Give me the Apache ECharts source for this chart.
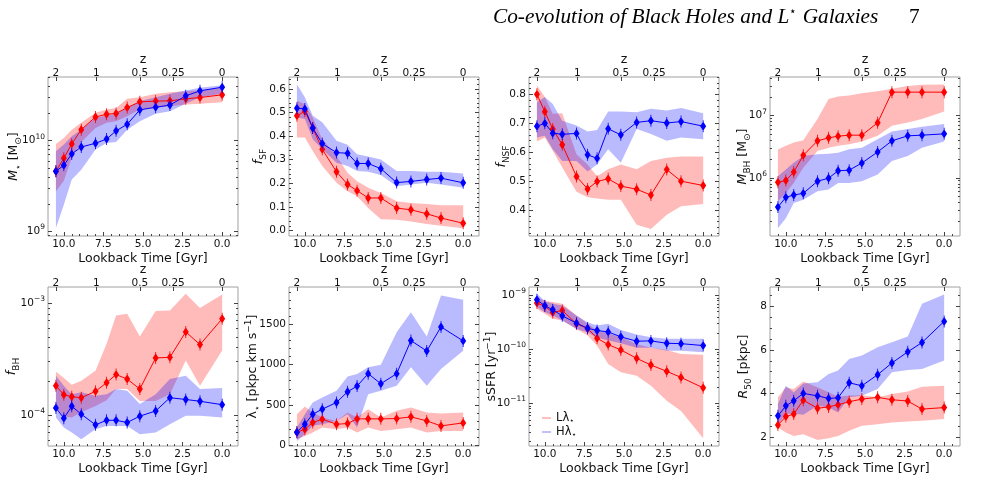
<!DOCTYPE html>
<html>
<head>
<meta charset="utf-8">
<script src="https://cdn.jsdelivr.net/npm/echarts@6/dist/echarts.min.js"></script>
<style>
  html, body { margin: 0; padding: 0; background: #fff; }
  #chart { width: 993px; height: 478px; }
</style>
</head>
<body>
<div id="chart"></div>
<script>
// lookback time of each snapshot [Gyr]
const lookback = [10.5, 10.0, 9.5, 8.9, 8.0, 7.3, 6.7, 6.0, 5.2, 4.2, 3.3, 2.3, 1.4, 0.0];
// top axis: redshift ticks and where they sit in lookback time
const zLabels = ['2', '1', '0.5', '0.25', '0'];
const zAtLookback = [10.5, 7.95, 5.2, 3.1, 0];
const xMajor = [0, 2.5, 5, 7.5, 10];

// L = low lambda (red), H = high lambda (blue); lo/hi = shaded band
const mstarL   = [4.6e9, 6.4e9, 9.2e9, 1.32e10, 1.82e10, 1.95e10, 1.99e10, 2.31e10, 2.67e10, 2.72e10, 2.74e10, 2.88e10, 2.98e10, 3.19e10];
const mstarLlo = [2.76e9, 3.62e9, 6.44e9, 9.67e9, 1.38e10, 1.57e10, 1.63e10, 1.85e10, 2.2e10, 2.29e10, 2.39e10, 2.49e10, 2.54e10, 2.65e10];
const mstarLhi = [9.2e9, 1.07e10, 1.32e10, 1.57e10, 2.02e10, 2.2e10, 2.29e10, 2.88e10, 3.0e10, 3.27e10, 3.41e10, 3.5e10, 3.59e10, 3.81e10];
const mstarH   = [4.6e9, 5.35e9, 7.13e9, 8.5e9, 9.35e9, 1.04e10, 1.28e10, 1.51e10, 2.18e10, 2.33e10, 2.46e10, 3.11e10, 3.53e10, 3.87e10];
const mstarHlo = [1.09e9, 1.97e9, 3.72e9, 4.79e9, 7.96e9, 9.42e9, 9.67e9, 1.32e10, 1.63e10, 1.97e10, 2.11e10, 2.54e10, 3.0e10, 3.27e10];
const mstarHhi = [7.62e9, 9.04e9, 1.12e10, 1.32e10, 1.78e10, 1.89e10, 1.97e10, 2.29e10, 2.72e10, 3.0e10, 3.27e10, 3.56e10, 3.81e10, 4.07e10];

const fsfL   = [0.486, 0.505, 0.434, 0.344, 0.249, 0.195, 0.169, 0.138, 0.138, 0.095, 0.088, 0.071, 0.053, 0.031];
const fsfLlo = [0.394, 0.394, 0.337, 0.273, 0.202, 0.166, 0.145, 0.095, 0.048, 0.046, 0.038, 0.028, 0.020, 0.010];
const fsfLhi = [0.550, 0.536, 0.479, 0.387, 0.316, 0.245, 0.209, 0.181, 0.159, 0.124, 0.117, 0.112, 0.107, 0.107];
const fsfH   = [0.518, 0.515, 0.434, 0.368, 0.330, 0.327, 0.284, 0.284, 0.262, 0.203, 0.208, 0.216, 0.222, 0.202];
const fsfHlo = [0.479, 0.472, 0.387, 0.344, 0.287, 0.273, 0.252, 0.249, 0.235, 0.188, 0.195, 0.202, 0.195, 0.181];
const fsfHhi = [0.619, 0.564, 0.486, 0.458, 0.380, 0.363, 0.323, 0.313, 0.301, 0.252, 0.252, 0.249, 0.249, 0.242];

const fnsfL   = [0.80, 0.74, 0.68, 0.626, 0.516, 0.473, 0.499, 0.508, 0.483, 0.472, 0.452, 0.540, 0.500, 0.485];
const fnsfLlo = [0.637, 0.651, 0.605, 0.547, 0.463, 0.444, 0.440, 0.436, 0.436, 0.349, 0.335, 0.384, 0.413, 0.421];
const fnsfLhi = [0.831, 0.791, 0.733, 0.735, 0.593, 0.558, 0.517, 0.541, 0.558, 0.541, 0.570, 0.581, 0.585, 0.585];
const fnsfH   = [0.69, 0.70, 0.666, 0.662, 0.665, 0.591, 0.579, 0.681, 0.660, 0.703, 0.709, 0.701, 0.706, 0.690];
const fnsfHlo = [0.651, 0.657, 0.610, 0.570, 0.570, 0.533, 0.558, 0.610, 0.564, 0.680, 0.663, 0.640, 0.651, 0.645];
const fnsfHhi = [0.773, 0.791, 0.767, 0.709, 0.692, 0.672, 0.677, 0.741, 0.741, 0.738, 0.750, 0.744, 0.753, 0.735];

const mbhL   = [8.5e5, 9.06e5, 1.24e6, 2.3e6, 3.94e6, 4.4e6, 4.68e6, 4.86e6, 4.86e6, 7.7e6, 2.39e7, 2.39e7, 2.39e7, 2.39e7];
const mbhLlo = [4.19e5, 5.71e5, 8.3e5, 1.45e6, 2.7e6, 3.06e6, 3.27e6, 3.47e6, 3.84e6, 4.74e6, 6.89e6, 7.8e6, 8.83e6, 1.17e7];
const mbhLhi = [2.85e6, 3.27e6, 3.7e6, 4.03e6, 8.83e6, 1.86e7, 2.03e7, 2.11e7, 2.3e7, 2.48e7, 2.7e7, 2.99e7, 3.14e7, 3.18e7];
const mbhH   = [3.39e5, 4.86e5, 5.3e5, 5.64e5, 8.83e5, 9.88e5, 1.3e6, 1.33e6, 1.73e6, 2.61e6, 3.94e6, 4.74e6, 4.86e6, 5.1e6];
const mbhHlo = [1.55e5, 2.24e5, 3.94e5, 4.46e5, 6.08e5, 6.47e5, 8.3e5, 8.3e5, 8.83e5, 1.13e6, 1.86e6, 2.24e6, 3.06e6, 3.84e6];
const mbhHhi = [1.06e6, 1.36e6, 1.75e6, 2.24e6, 2.39e6, 2.45e6, 2.54e6, 2.88e6, 3.06e6, 4.19e6, 5.57e6, 6.08e6, 6.64e6, 7.33e6];

const fbhL   = [1.83e-4, 1.52e-4, 1.46e-4, 1.43e-4, 1.63e-4, 1.95e-4, 2.3e-4, 2.1e-4, 1.71e-4, 3.24e-4, 3.28e-4, 5.53e-4, 4.26e-4, 7.24e-4];
const fbhLlo = [1.17e-4, 9.66e-5, 9.53e-5, 1.06e-4, 1.21e-4, 1.36e-4, 1.71e-4, 1.71e-4, 1.34e-4, 1.34e-4, 1.54e-4, 3.07e-4, 1.83e-4, 3.77e-4];
const fbhLhi = [2.44e-4, 2.14e-4, 1.87e-4, 2.03e-4, 2.49e-4, 4.33e-4, 7.76e-4, 8.02e-4, 5.02e-4, 8.47e-4, 8.59e-4, 1.21e-3, 9.02e-4, 1.19e-3];
const fbhH   = [1.16e-4, 9.4e-5, 1.2e-4, 1.02e-4, 8.2e-5, 9.0e-5, 9.0e-5, 8.6e-5, 9.8e-5, 1.09e-4, 1.43e-4, 1.38e-4, 1.33e-4, 1.24e-4];
const fbhHlo = [9.53e-5, 7.76e-5, 7.0e-5, 6.1e-5, 7.5e-5, 8.0e-5, 8.0e-5, 8.0e-5, 6.76e-5, 7.0e-5, 8.3e-5, 9.86e-5, 9.86e-5, 9.53e-5];
const fbhHhi = [2.25e-4, 1.83e-4, 1.54e-4, 1.6e-4, 1.49e-4, 1.54e-4, 1.71e-4, 1.65e-4, 1.26e-4, 1.54e-4, 2.1e-4, 2.25e-4, 1.71e-4, 1.75e-4];

const lamL   = [158, 196, 279, 321, 258, 267, 325, 325, 325, 329, 350, 300, 237, 275];
const lamLlo = [71, 112, 154, 217, 196, 217, 154, 217, 175, 196, 217, 154, 175, 175];
const lamLhi = [383, 479, 404, 342, 300, 404, 342, 446, 342, 425, 467, 404, 392, 404];
const lamH   = [158, 258, 383, 446, 529, 663, 733, 888, 763, 888, 1300, 1171, 1471, 1296];
const lamHlo = [50, 133, 238, 258, 300, 383, 217, 633, 675, 738, 967, 738, 946, 1175];
const lamHhi = [217, 383, 529, 592, 675, 854, 883, 967, 1000, 1404, 1654, 1350, 1863, 1808];

const ssfrL   = [7.2e-10, 6.34e-10, 4.83e-10, 5.26e-10, 2.98e-10, 2.44e-10, 1.61e-10, 1.23e-10, 9.8e-11, 6.85e-11, 5.15e-11, 3.93e-11, 3.04e-11, 1.95e-11];
const ssfrLlo = [5.65e-10, 4.56e-10, 3.69e-10, 3.43e-10, 2.4e-10, 1.81e-10, 1.18e-10, 5.38e-11, 3.77e-11, 3.27e-11, 2.13e-11, 1.13e-11, 7.3e-12, 2.27e-12];
const ssfrLhi = [9.31e-10, 7.85e-10, 7.52e-10, 7.0e-10, 4.25e-10, 2.98e-10, 2.24e-10, 2.0e-10, 1.68e-10, 1.26e-10, 1.07e-10, 9.8e-11, 8.24e-11, 8.0e-11];
const ssfrH   = [8.3e-10, 6.42e-10, 5.42e-10, 4.19e-10, 3.06e-10, 2.47e-10, 2.24e-10, 2.11e-10, 1.71e-10, 1.42e-10, 1.44e-10, 1.3e-10, 1.28e-10, 1.18e-10];
const ssfrHlo = [6.07e-10, 4.9e-10, 4.25e-10, 3.43e-10, 2.4e-10, 2.08e-10, 1.64e-10, 1.46e-10, 1.3e-10, 1.07e-10, 1.07e-10, 9.5e-11, 9.5e-11, 8.85e-11];
const ssfrHhi = [1.07e-9, 7.85e-10, 7.0e-10, 6.52e-10, 4.25e-10, 3.2e-10, 2.77e-10, 2.98e-10, 2.3e-10, 1.89e-10, 1.68e-10, 1.57e-10, 1.57e-10, 1.57e-10];

const r50L   = [2.55, 2.94, 3.05, 3.69, 3.32, 3.38, 3.48, 3.62, 3.74, 3.82, 3.71, 3.65, 3.28, 3.35];
const r50Llo = [2.43, 2.20, 2.05, 2.12, 1.86, 1.94, 2.05, 2.28, 2.51, 2.58, 2.66, 2.71, 2.74, 2.82];
const r50Lhi = [3.82, 4.28, 4.20, 4.55, 4.28, 4.05, 3.85, 3.90, 3.92, 3.82, 3.97, 4.09, 4.31, 4.35];
const r50H   = [2.97, 3.43, 3.66, 4.0, 3.89, 3.77, 3.80, 4.49, 4.35, 4.86, 5.40, 5.91, 6.34, 7.31];
const r50Hlo = [2.58, 3.05, 3.08, 3.02, 3.43, 3.35, 3.12, 3.82, 3.89, 4.20, 4.97, 5.08, 5.12, 5.51];
const r50Hhi = [3.51, 4.35, 4.05, 4.46, 4.51, 4.89, 5.05, 5.58, 5.74, 6.12, 6.35, 6.62, 8.12, 8.54];

const FONT = 'DejaVu Sans';
const RED = '#ff0000', BLUE = '#0000ff';
const RED_FILL = 'rgba(255,0,0,0.27)', BLUE_FILL = 'rgba(0,0,255,0.27)';
const FRAME = '#a0a0a0', TICK = '#444', TEXT = '#111';
const MARK = 'path://M5,2 L9,9 L5,16 L1,9 Z M4.45,0 L5.55,0 L5.55,18 L4.45,18 Z';

const gridLeft = [48, 289, 529, 770];
const gridTop = [77, 287];
const gridW = 190, gridH = 159;

function linTicks(from, to, step) {
  const out = [];
  for (let v = from; v <= to + 1e-9; v += step) out.push(+v.toFixed(6));
  return out;
}
function logMinors(min, max) {
  const out = [];
  for (let e = Math.floor(Math.log10(min)); e <= Math.ceil(Math.log10(max)); e++) {
    for (let k = 2; k <= 9; k++) {
      const v = k * Math.pow(10, e);
      if (v > min && v < max) out.push(v);
    }
  }
  return out;
}
function powLabel(v) {
  const e = Math.round(Math.log10(v));
  return '{b|10}{sup|' + (e < 0 ? '\u2212' + (-e) : e) + '}';
}

// gap = distance from the frame to the rotated y title
const panels = [
  { title: '{i|M}{sub|\u22c6} [M{sub|\u2299}]', gap: 25, log: true, min: Math.pow(10, 8.95), max: Math.pow(10, 10.70),
    major: [1e9, 1e10], L: mstarL, Llo: mstarLlo, Lhi: mstarLhi, H: mstarH, Hlo: mstarHlo, Hhi: mstarHhi },
  { title: '{i|f}{sub|SF}', gap: 21, min: -0.023, max: 0.65, major: linTicks(0, 0.6, 0.1), minor: linTicks(0, 0.64, 0.02),
    fmt: v => v.toFixed(1), L: fsfL, Llo: fsfLlo, Lhi: fsfLhi, H: fsfH, Hlo: fsfHlo, Hhi: fsfHhi },
  { title: '{i|f}{sub|NSF}', gap: 18, min: 0.3105, max: 0.86, major: linTicks(0.4, 0.8, 0.1), minor: linTicks(0.32, 0.86, 0.02),
    fmt: v => v.toFixed(1), L: fnsfL, Llo: fnsfLlo, Lhi: fnsfLhi, H: fnsfH, Hlo: fnsfHlo, Hhi: fnsfHhi },
  { title: '{i|M}{sub|BH} [M{sub|\u2299}]', gap: 18, log: true, min: Math.pow(10, 5.065), max: Math.pow(10, 7.622),
    major: [1e6, 1e7], L: mbhL, Llo: mbhLlo, Lhi: mbhLhi, H: mbhH, Hlo: mbhHlo, Hhi: mbhHhi },
  { title: '{i|f}{sub|BH}', gap: 27, log: true, min: Math.pow(10, -4.275), max: Math.pow(10, -2.857),
    major: [1e-4, 1e-3], L: fbhL, Llo: fbhLlo, Lhi: fbhLhi, H: fbhH, Hlo: fbhHlo, Hhi: fbhHhi },
  { title: '\u03bb{sub|\u22c6} [pkpc km s{sup|\u22121}]', gap: 27, min: -13, max: 1968, major: linTicks(0, 1500, 500),
    minor: linTicks(0, 1900, 100), fmt: v => String(Math.round(v)), L: lamL, Llo: lamLlo, Lhi: lamLhi, H: lamH, Hlo: lamHlo, Hhi: lamHhi },
  { title: 'sSFR [yr{sup|\u22121}]', gap: 28, log: true, min: Math.pow(10, -11.786), max: Math.pow(10, -8.845),
    major: [1e-11, 1e-10, 1e-9], L: ssfrL, Llo: ssfrLlo, Lhi: ssfrLhi, H: ssfrH, Hlo: ssfrHlo, Hhi: ssfrHhi },
  { title: '{i|R}{sub|50} [pkpc]', gap: 17, min: 1.585, max: 8.89, major: linTicks(2, 8, 2), minor: linTicks(2, 8.5, 0.5),
    fmt: v => String(Math.round(v)), L: r50L, Llo: r50Llo, Lhi: r50Lhi, H: r50H, Hlo: r50Hlo, Hhi: r50Hhi }
];

const labelRich = {
  b: { fontFamily: FONT, fontSize: 10.5, color: TEXT, lineHeight: 16 },
  sup: { fontFamily: FONT, fontSize: 7.5, color: TEXT, lineHeight: 7, verticalAlign: 'top' }
};
const nameStyle = {
  fontFamily: FONT, fontSize: 12.5, color: TEXT, lineHeight: 18,
  rich: {
    i: { fontFamily: FONT, fontStyle: 'italic', fontSize: 12.5, color: TEXT, lineHeight: 18 },
    sub: { fontFamily: FONT, fontSize: 9, color: TEXT, lineHeight: 10, verticalAlign: 'bottom' },
    sup: { fontFamily: FONT, fontSize: 9, color: TEXT, lineHeight: 8, verticalAlign: 'top' }
  }
};

const grids = [], xAxes = [], yAxes = [], series = [];

function band(xi, yi, lo, hi, color) {
  return {
    type: 'custom', xAxisIndex: xi, yAxisIndex: yi, clip: true, silent: true, z: 2,
    data: [[lookback[0], hi[0]]],
    renderItem: function (params, api) {
      const pts = lookback.map((t, k) => api.coord([t, hi[k]]));
      for (let k = lookback.length - 1; k >= 0; k--) pts.push(api.coord([lookback[k], lo[k]]));
      return { type: 'polygon', shape: { points: pts }, style: { fill: color } };
    }
  };
}
function curve(xi, yi, vals, color, name) {
  return {
    type: 'line', name: name, xAxisIndex: xi, yAxisIndex: yi, z: 5, silent: true,
    data: lookback.map((t, k) => [t, vals[k]]),
    symbol: MARK, symbolSize: [6, 12], showSymbol: true,
    lineStyle: { color: color, width: 1 }, itemStyle: { color: color }
  };
}

panels.forEach(function (p, gi) {
  const row = Math.floor(gi / 4), col = gi % 4;
  grids.push({ left: gridLeft[col], top: gridTop[row], width: gridW, height: gridH,
    show: true, borderColor: FRAME, borderWidth: 1, backgroundColor: 'transparent' });

  const xBase = { type: 'value', gridIndex: gi, min: -1, max: 11, inverse: true,
    axisLine: { show: false, onZero: false }, splitLine: { show: false } };
  const xi = xAxes.length;
  xAxes.push(Object.assign({}, xBase, {
    position: 'bottom',
    name: 'Lookback Time [Gyr]', nameLocation: 'middle', nameGap: 16, nameMoveOverlap: false,
    nameTextStyle: { fontFamily: FONT, fontSize: 12.5, color: TEXT },
    axisTick: { inside: true, length: 4, customValues: xMajor, lineStyle: { color: TICK } },
    axisLabel: { customValues: xMajor, margin: 3, fontFamily: FONT, fontSize: 10.5, color: TEXT, formatter: v => v.toFixed(1) }
  }));
  xAxes.push(Object.assign({}, xBase, {
    position: 'top',
    name: 'z', nameLocation: 'middle', nameGap: 5,
    nameTextStyle: { fontFamily: FONT, fontSize: 12.5, color: TEXT },
    axisTick: { inside: true, length: 4, customValues: zAtLookback, lineStyle: { color: TICK } },
    axisLabel: { customValues: zAtLookback, margin: -1.5, fontFamily: FONT, fontSize: 10.5, color: TEXT,
      formatter: v => zLabels[zAtLookback.indexOf(v)] }
  }));
  // minor ticks along the bottom
  xAxes.push(Object.assign({}, xBase, {
    position: 'bottom',
    axisTick: { inside: true, length: 2, customValues: linTicks(-0.5, 10.5, 0.5), lineStyle: { color: TICK } },
    axisLabel: { show: false }
  }));

  const yBase = { type: p.log ? 'log' : 'value', logBase: 10, gridIndex: gi, min: p.min, max: p.max,
    axisLine: { show: false, onZero: false }, splitLine: { show: false } };
  const minors = p.log ? logMinors(p.min, p.max) : p.minor;
  const fmt = p.log ? powLabel : p.fmt;
  const yi = yAxes.length;
  yAxes.push(Object.assign({}, yBase, {
    position: 'left',
    name: p.title, nameLocation: 'middle', nameRotate: 90, nameGap: p.gap, nameMoveOverlap: false,
    nameTextStyle: nameStyle,
    axisTick: { inside: true, length: 4, customValues: p.major, lineStyle: { color: TICK } },
    axisLabel: { customValues: p.major, margin: 3, fontFamily: FONT, fontSize: 10.5, color: TEXT,
      formatter: v => p.log ? fmt(v) : '{b|' + fmt(v) + '}', rich: labelRich }
  }));
  yAxes.push(Object.assign({}, yBase, {
    position: 'right',
    axisTick: { inside: true, length: 4, customValues: p.major, lineStyle: { color: TICK } },
    axisLabel: { show: false }
  }));
  yAxes.push(Object.assign({}, yBase, {
    position: 'left',
    axisTick: { inside: true, length: 2, customValues: minors, lineStyle: { color: TICK } },
    axisLabel: { show: false }
  }));
  yAxes.push(Object.assign({}, yBase, {
    position: 'right',
    axisTick: { inside: true, length: 2, customValues: minors, lineStyle: { color: TICK } },
    axisLabel: { show: false }
  }));

  series.push(band(xi, yi, p.Llo, p.Lhi, RED_FILL));
  series.push(band(xi, yi, p.Hlo, p.Hhi, BLUE_FILL));
  series.push(curve(xi, yi, p.L, RED, 'L\u03bb\u22c6'));
  series.push(curve(xi, yi, p.H, BLUE, 'H\u03bb\u22c6'));
});

const chart = echarts.init(document.getElementById('chart'), null, { renderer: 'canvas' });
chart.setOption({
  animation: false,
  backgroundColor: '#fff',
  title: [
    { text: '{t|Co-evolution of Black Holes and L}{s|\u22c6}{t| Galaxies}', left: 488, top: 1,
      textStyle: { fontWeight: 'normal', rich: {
        t: { fontFamily: 'Liberation Serif', fontStyle: 'italic', fontWeight: 'normal', fontSize: 21.3, color: '#000', lineHeight: 23 },
        s: { fontFamily: 'Liberation Serif', fontWeight: 'normal', fontSize: 12, color: '#000', lineHeight: 10, verticalAlign: 'top' } } } },
    { text: '7', left: 904, top: 1,
      textStyle: { fontFamily: 'Liberation Serif', fontSize: 21.3, fontWeight: 'normal', color: '#000', lineHeight: 23 } }
  ],
  legend: {
    left: 537, top: 406, orient: 'vertical', selectedMode: false,
    icon: 'rect', itemWidth: 9, itemHeight: 1, itemGap: 0,
    data: [
      { name: 'L\u03bb\u22c6', itemStyle: { color: 'rgba(255,0,0,0.5)' } },
      { name: 'H\u03bb\u22c6', itemStyle: { color: 'rgba(0,0,255,0.5)' } }
    ],
    formatter: n => n.replace('\u22c6', '{s|\u22c6}'),
    textStyle: { fontFamily: FONT, fontSize: 11.5, color: TEXT, lineHeight: 14,
      rich: { s: { fontFamily: FONT, fontSize: 8, color: TEXT, lineHeight: 9, verticalAlign: 'bottom' } } }
  },
  grid: grids,
  xAxis: xAxes,
  yAxis: yAxes,
  series: series
});
</script>
</body>
</html>
